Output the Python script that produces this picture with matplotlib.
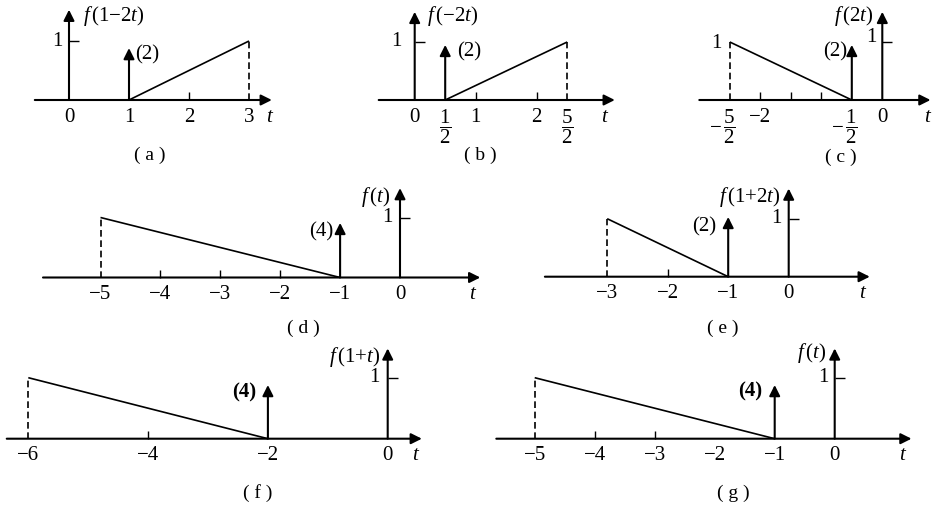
import matplotlib
matplotlib.use('Agg')
import matplotlib.pyplot as plt

plt.rcParams['font.family'] = ['Liberation Serif', 'Noto Sans CJK SC', 'DejaVu Sans']
plt.rcParams['mathtext.fontset'] = 'custom'
plt.rcParams['mathtext.rm'] = 'Liberation Serif'
plt.rcParams['mathtext.it'] = 'Liberation Serif:italic'
plt.rcParams['mathtext.bf'] = 'Liberation Serif:bold'

# ---------------- data ----------------
# (a) f(1-2t)
a_title = r'$f\,(1{-}2t)$'
a_ramp_t = [1, 3]
a_ramp_y = [0, 1]
a_dash_t = [3]
a_imp_t = [1]
a_imp_h = [0.88]
a_imp_lab = ['(2)']
a_ticks = [0, 1, 2, 3]
a_tick_labels = ['0', '1', '2', '3']
a_marks = [2]

# (b) f(-2t)
b_title = r'$f\,({-}2t)$'
b_ramp_t = [0.5, 2.5]
b_ramp_y = [0, 1]
b_dash_t = [2.5]
b_imp_t = [0.5]
b_imp_h = [0.95]
b_imp_lab = ['(2)']
b_ticks = [0, 0.5, 1, 2, 2.5]
b_tick_labels = ['0', r'$\dfrac{1}{2}$', '1', '2', r'$\dfrac{5}{2}$']
b_marks = [1, 2]

# (c) f(2t)
c_title = r'$f\,(2t)$'
c_ramp_t = [-2.5, -0.5]
c_ramp_y = [1, 0]
c_dash_t = [-2.5]
c_imp_t = [-0.5]
c_imp_h = [0.95]
c_imp_lab = ['(2)']
c_ticks = [-2.5, -2, -0.5, 0]
c_tick_labels = [r'$-\,\dfrac{5}{2}$', '\u22122', r'$-\,\dfrac{1}{2}$', '0']
c_marks = [-2, -1.5, -1]

# (d) f(t)
d_title = r'$f\,(t)$'
d_ramp_t = [-5, -1]
d_ramp_y = [1, 0]
d_dash_t = [-5]
d_imp_t = [-1]
d_imp_h = [0.91]
d_imp_lab = ['(4)']
d_ticks = [-5, -4, -3, -2, -1, 0]
d_tick_labels = ['\u22125', '\u22124', '\u22123', '\u22122', '\u22121', '0']
d_marks = [-4, -3, -2]

# (e) f(1+2t)
e_title = r'$f\,(1{+}2t)$'
e_ramp_t = [-3, -1]
e_ramp_y = [1, 0]
e_dash_t = [-3]
e_imp_t = [-1]
e_imp_h = [1.03]
e_imp_lab = ['(2)']
e_ticks = [-3, -2, -1, 0]
e_tick_labels = ['\u22123', '\u22122', '\u22121', '0']
e_marks = [-2]

# (f) f(1+t)
f_title = r'$f\,(1{+}t)$'
f_ramp_t = [-6, -2]
f_ramp_y = [1, 0]
f_dash_t = [-6]
f_imp_t = [-2]
f_imp_h = [0.88]
f_imp_lab = ['(4)']
f_ticks = [-6, -4, -2, 0]
f_tick_labels = ['\u22126', '\u22124', '\u22122', '0']
f_marks = [-4]

# (g) f(t)
g_title = r'$f\,(t)$'
g_ramp_t = [-5, -1]
g_ramp_y = [1, 0]
g_dash_t = [-5]
g_imp_t = [-1]
g_imp_h = [0.88]
g_imp_lab = ['(4)']
g_ticks = [-5, -4, -3, -2, -1, 0]
g_tick_labels = ['\u22125', '\u22124', '\u22123', '\u22122', '\u22121', '0']
g_marks = [-4, -3]

captions = ['( a )', '( b )', '( c )', '( d )', '( e )', '( f )', '( g )']

# ---------------- layout (pixels / offsets) ----------------
W, H = 936, 505
fig = plt.figure(figsize=(W / 100, H / 100), dpi=100)

FS = 15
LW_AX = 1.5
LW_R = 1.2
MS = 16


def panel(data, geo, txt, caption, cap_xy, bold_imp=False, extra_one=None):
    title, ramp_t, ramp_y, dash_t, imp_t, imp_h, imp_lab, ticks, labels, marks = data
    t0, y0, u, uy, tlo, thi, ytop = geo
    xl = (tlo - 0.3, thi + 0.3)
    yl = (-1.2, ytop + 0.3)
    left = (t0 + xl[0] * u) / W
    width = (xl[1] - xl[0]) * u / W
    bottom = (H - (y0 - yl[0] * uy)) / H
    height = (yl[1] - yl[0]) * uy / H
    ax = fig.add_axes([left, bottom, width, height])
    ax.set_xlim(*xl)
    ax.set_ylim(*yl)
    ax.axis('off')
    arrow = dict(arrowstyle='-|>', color='black', lw=LW_AX, shrinkA=0, shrinkB=0,
                 mutation_scale=MS)
    # t axis
    ax.annotate('', xy=(thi, 0), xytext=(tlo, 0), arrowprops=arrow, annotation_clip=False)
    # vertical axis
    ax.annotate('', xy=(0, ytop), xytext=(0, 0), arrowprops=arrow, annotation_clip=False)
    # level tick "1"
    ax.hlines([1], 0, 10 / u, colors='black', lw=1.0)
    # ramp
    ax.plot(ramp_t, ramp_y, color='black', lw=LW_R, solid_capstyle='butt')
    # dashed edge
    ax.vlines(dash_t, 0, 1, colors='black', lw=LW_R, linestyles=(0, (4, 2.2)))
    # impulses
    for t, h in zip(imp_t, imp_h):
        ax.annotate('', xy=(t, h), xytext=(t, 0), arrowprops=arrow, annotation_clip=False)
    # axis marks
    ax.vlines(marks, 0, 8 / uy, colors='black', lw=1.0)
    # tick labels
    for t, lab in zip(ticks, labels):
        dx = -5.5 if lab.startswith('$-') else 0
        ax.annotate(lab, xy=(t, 0), xytext=(dx, -5.5), textcoords='offset points',
                    ha='center', va='top', fontsize=FS, annotation_clip=False)
    (tx, ty, tha), (ix, iy, iha), (ox, oy), tlx = txt
    ax.text(tx, ty, title, ha=tha, va='center', fontsize=FS)
    for lab in imp_lab:
        ax.text(ix, iy, lab, ha=iha, va='center', fontsize=FS,
                fontweight='bold' if bold_imp else 'normal')
    ax.text(ox, oy, '1', ha='right', va='center', fontsize=FS)
    if extra_one is not None:
        ax.text(extra_one[0], extra_one[1], '1', ha='right', va='center', fontsize=FS)
    ax.annotate(r'$t$', xy=(tlx, 0), xytext=(0, -5.5), textcoords='offset points',
                ha='center', va='top', fontsize=FS, annotation_clip=False)
    fig.text(cap_xy[0] / W, 1 - cap_xy[1] / H, caption, ha='center', va='center',
             fontsize=14)


panel((a_title, a_ramp_t, a_ramp_y, a_dash_t, a_imp_t, a_imp_h, a_imp_lab,
       a_ticks, a_tick_labels, a_marks),
      (69, 100, 60, 59, -0.57, 3.38, 1.53),
      ((0.23, 1.42, 'left'), (1.1, 0.76, 'left'), (-0.1, 1.0), 3.36),
      captions[0], (150, 155))

panel((b_title, b_ramp_t, b_ramp_y, b_dash_t, b_imp_t, b_imp_h, b_imp_lab,
       b_ticks, b_tick_labels, b_marks),
      (414.7, 100, 61, 58, -0.59, 3.28, 1.52),
      ((0.2, 1.45, 'left'), (0.69, 0.83, 'left'), (-0.22, 1.0), 3.12),
      captions[1], (480, 155))

panel((c_title, c_ramp_t, c_ramp_y, c_dash_t, c_imp_t, c_imp_h, c_imp_lab,
       c_ticks, c_tick_labels, c_marks),
      (882.3, 100, 61, 58, -3.0, 0.79, 1.52),
      ((-0.14, 1.45, 'right'), (-0.58, 0.83, 'right'), (-0.09, 1.07), 0.75),
      captions[2], (841, 157), extra_one=(-2.63, 0.98))

panel((d_title, d_ramp_t, d_ramp_y, d_dash_t, d_imp_t, d_imp_h, d_imp_lab,
       d_ticks, d_tick_labels, d_marks),
      (400, 277.5, 59.9, 60, -5.96, 1.34, 1.49),
      ((-0.17, 1.34, 'right'), (-1.12, 0.76, 'right'), (-0.12, 1.0), 1.22),
      captions[3], (303, 328))

panel((e_title, e_ramp_t, e_ramp_y, e_dash_t, e_imp_t, e_imp_h, e_imp_lab,
       e_ticks, e_tick_labels, e_marks),
      (788.7, 276.7, 60.5, 58, -4.03, 1.34, 1.52),
      ((-0.13, 1.38, 'right'), (-1.2, 0.86, 'right'), (-0.11, 1.0), 1.23),
      captions[4], (723, 328))

panel((f_title, f_ramp_t, f_ramp_y, f_dash_t, f_imp_t, f_imp_h, f_imp_lab,
       f_ticks, f_tick_labels, f_marks),
      (387.7, 438.7, 59.9, 61, -6.36, 0.57, 1.48),
      ((-0.13, 1.34, 'right'), (-2.19, 0.75, 'right'), (-0.13, 1.0), 0.48),
      captions[5], (258, 493), bold_imp=True)

panel((g_title, g_ramp_t, g_ramp_y, g_dash_t, g_imp_t, g_imp_h, g_imp_lab,
       g_ticks, g_tick_labels, g_marks),
      (834.7, 438.7, 60, 61, -5.64, 1.28, 1.48),
      ((-0.15, 1.4, 'right'), (-1.2, 0.77, 'right'), (-0.1, 1.0), 1.14),
      captions[6], (733, 493), bold_imp=True)

fig.savefig('out.png', dpi=100, facecolor='white')
